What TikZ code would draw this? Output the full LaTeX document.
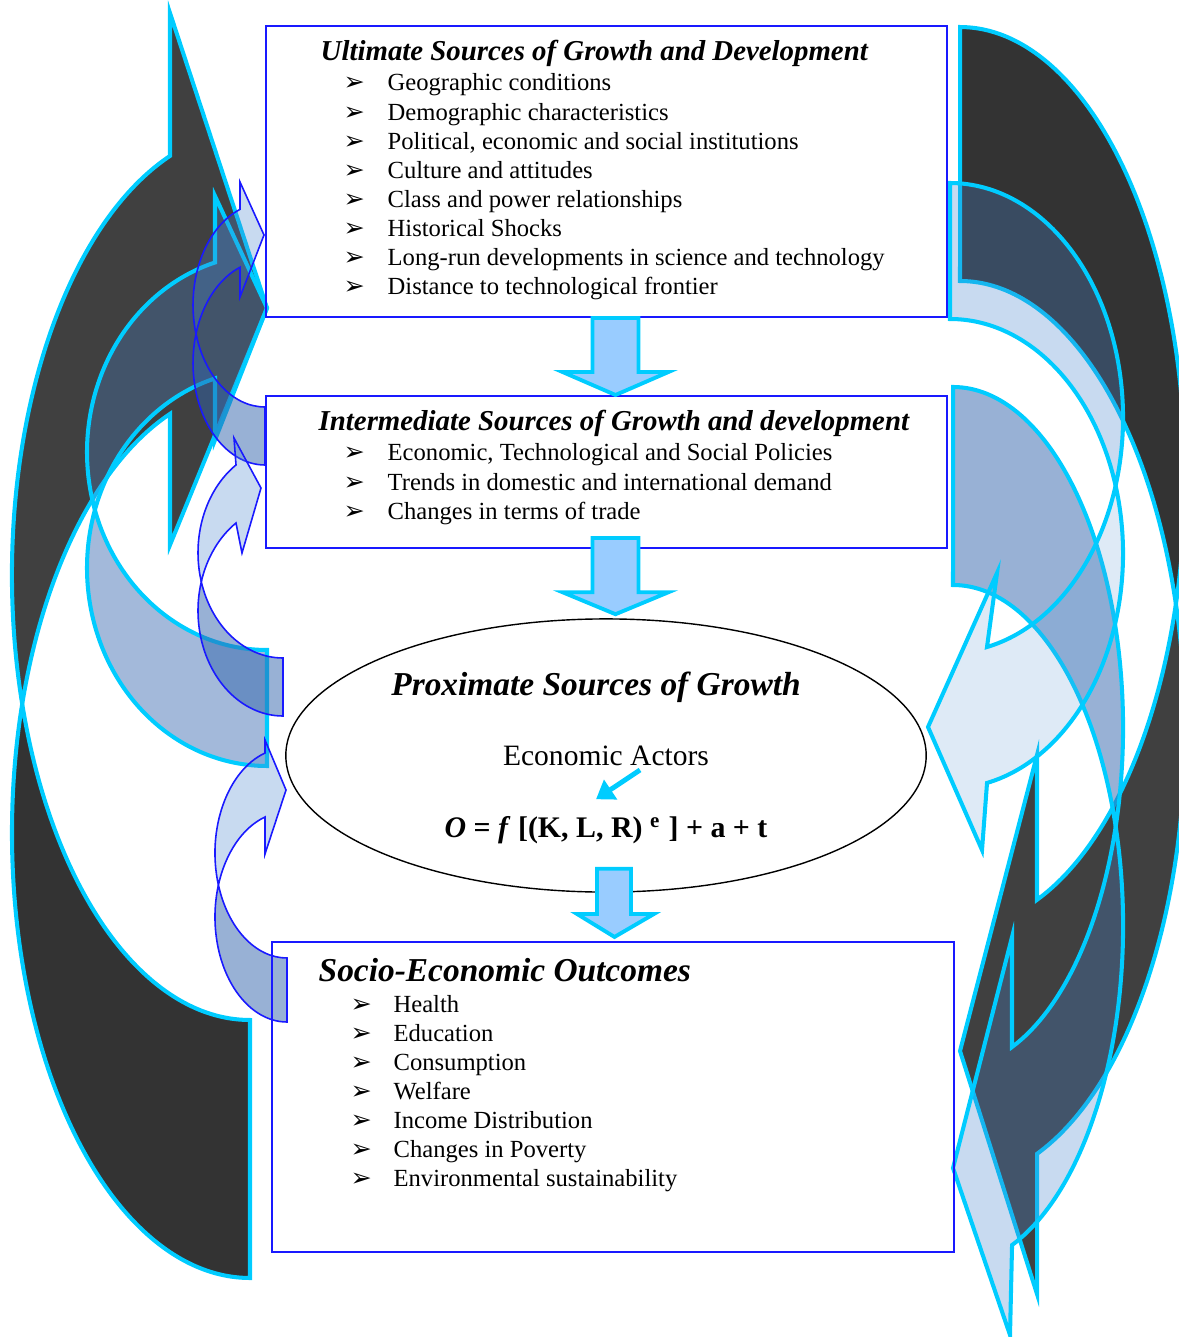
\documentclass[tikz,border=0pt]{standalone}
\usepackage{fontspec}
\setmainfont{Liberation Serif}
\newfontfamily\dingfont{DejaVu Sans}
\usepackage{array}
\usetikzlibrary{shapes.geometric,calc,arrows.meta}

\definecolor{cyanline}{RGB}{0,204,255}
\definecolor{flowfill}{RGB}{153,204,255}
\definecolor{darkhead}{RGB}{64,64,64}
\definecolor{darktail}{RGB}{51,51,51}
\definecolor{palefill}{RGB}{90,150,210}
\definecolor{lightfill}{RGB}{72,132,205}
\definecolor{midfill}{RGB}{50,100,172}
\definecolor{boxblue}{RGB}{25,25,255}

\begin{document}
\begin{tikzpicture}[x=0.01cm,y=-0.01cm,
  box/.style={draw=boxblue, line width=0.55pt, inner sep=0pt},
  heading/.style={font=\fontsize{8.2}{9.8}\selectfont\bfseries\itshape, inner sep=0pt, anchor=base west},
  items/.style={font=\fontsize{7}{8.25}\selectfont, inner sep=0pt, anchor=base west},
  flow/.style={draw=cyanline, fill=flowfill, line width=1.1pt},
  ribbon/.style={draw=cyanline, line width=1.15pt},
  thinribbon/.style={draw=boxblue, line width=0.45pt},
  pointer/.style={draw=cyanline, line width=1.4pt, -{Triangle[length=5pt,width=6.5pt]}}]

	\useasboundingbox (0,0) rectangle (1178,1337);

	\filldraw[ribbon, fill=darkhead] (22.2,704) arc[start angle=163.15, end angle=250.36, x radius=238, y radius=445] -- (170,13) -- (267,308) -- (170,545) -- (170,413.9) arc[start angle=250.36, end angle=196.85, x radius=238, y radius=445] -- cycle;
	\filldraw[ribbon, fill=darktail] (22.2,704) arc[start angle=196.85, end angle=90, x radius=238, y radius=445] -- (250,1020) arc[start angle=90, end angle=163.15, x radius=238, y radius=445] -- cycle;

	\filldraw[ribbon, fill=lightfill, fill opacity=0.3] (94.9,510) arc[start angle=162.97, end angle=253.21, x radius=180, y radius=198] -- (215,196) -- (267,308) -- (215,440) -- (215,378.4) arc[start angle=253.21, end angle=197.03, x radius=180, y radius=198] -- cycle;
	\filldraw[ribbon, fill=midfill, fill opacity=0.45] (94.9,510) arc[start angle=197.03, end angle=90, x radius=180, y radius=198] -- (267,650) arc[start angle=90, end angle=162.97, x radius=180, y radius=198] -- cycle;

	\filldraw[ribbon, fill=darkhead] (1175.9,604) arc[start angle=-16.39, end angle=69.99, x radius=225, y radius=450] -- (1037,1294) -- (960,1051) -- (1037,755) -- (1037,899.8) arc[start angle=69.99, end angle=16.39, x radius=225, y radius=450] -- cycle;
	\filldraw[ribbon, fill=darktail] (1175.9,604) arc[start angle=16.39, end angle=-90, x radius=225, y radius=450] -- (960,281) arc[start angle=-90, end angle=-16.39, x radius=225, y radius=450] -- cycle;

	\filldraw[ribbon, fill=lightfill, fill opacity=0.3] (1115.7,826.6) arc[start angle=-16.9, end angle=69.69, x radius=170, y radius=340.6] -- (1010,1335) -- (953,1168) -- (1012,937) -- (1012,1047) arc[start angle=69.69, end angle=16.9, x radius=170, y radius=340.6] -- cycle;
	\filldraw[ribbon, fill=midfill, fill opacity=0.5] (1115.7,826.6) arc[start angle=16.9, end angle=-90, x radius=170, y radius=340.6] -- (953,585) arc[start angle=-90, end angle=-16.9, x radius=170, y radius=340.6] -- cycle;

	\filldraw[ribbon, fill=palefill, fill opacity=0.2] (1115.6,485.7) arc[start angle=-16.84, end angle=77.65, x radius=173, y radius=234.7] -- (982,850) -- (928,727) -- (997,573) -- (987,647) arc[start angle=77.65, end angle=16.84, x radius=173, y radius=234.7] -- cycle;
	\filldraw[ribbon, fill=lightfill, fill opacity=0.3] (1115.6,485.7) arc[start angle=16.84, end angle=-90, x radius=173, y radius=234.7] -- (950,319) arc[start angle=-90, end angle=-16.84, x radius=173, y radius=234.7] -- cycle;

	\filldraw[thinribbon, fill=lightfill, fill opacity=0.3] (196,334) arc[start angle=163.48, end angle=249.68, x radius=72, y radius=102] -- (240,182) -- (264,235) -- (240,297) -- (240,267.3) arc[start angle=249.68, end angle=196.52, x radius=72, y radius=102] -- cycle;
	\filldraw[thinribbon, fill=midfill, fill opacity=0.5] (196,334) arc[start angle=196.52, end angle=90, x radius=72, y radius=102] -- (265,407) arc[start angle=90, end angle=163.48, x radius=72, y radius=102] -- cycle;

	\filldraw[thinribbon, fill=lightfill, fill opacity=0.3] (201.3,581.7) arc[start angle=164.01, end angle=236.43, x radius=85, y radius=105.3] -- (234,438) -- (261,488) -- (242,553) -- (236,523) arc[start angle=236.43, end angle=195.99, x radius=85, y radius=105.3] -- cycle;
	\filldraw[thinribbon, fill=midfill, fill opacity=0.5] (201.3,581.7) arc[start angle=195.99, end angle=90, x radius=85, y radius=105.3] -- (283,658) arc[start angle=90, end angle=164.01, x radius=85, y radius=105.3] -- cycle;

	\filldraw[thinribbon, fill=lightfill, fill opacity=0.3] (218.4,885) arc[start angle=162.26, end angle=252.21, x radius=72, y radius=105] -- (265,740) -- (286,790) -- (265,854) -- (265,817) arc[start angle=252.21, end angle=197.74, x radius=72, y radius=105] -- cycle;
	\filldraw[thinribbon, fill=midfill, fill opacity=0.5] (218.4,885) arc[start angle=197.74, end angle=90, x radius=72, y radius=105] -- (287,958) arc[start angle=90, end angle=162.26, x radius=72, y radius=105] -- cycle;

	\node[box, minimum width=6.81cm, minimum height=2.91cm] (ult) at (606.5,171.5) {};
	\node[box, minimum width=6.81cm, minimum height=1.52cm] (int) at (606.5,472) {};
	\node[draw, ellipse, line width=0.4pt, minimum width=6.4cm, minimum height=2.73cm] (prox) at (606,755.5) {};
	\node[box, minimum width=6.82cm, minimum height=3.1cm] (soc) at (613,1097) {};

	\node[heading] (ulthead) at (320,61) {Ultimate Sources of Growth and Development};
	\node[items] (ultlist) at (343,91) {\begin{tabular}[t]{@{}>{\dingfont\fontsize{7.2}{8.25}\selectfont}w{l}{12.5pt}@{}l@{}}
		➢ & Geographic conditions\\
		➢ & Demographic characteristics\\
		➢ & Political, economic and social institutions\\
		➢ & Culture and attitudes\\
		➢ & Class and power relationships\\
		➢ & Historical Shocks\\
		➢ & Long-run developments in science and technology\\
		➢ & Distance to technological frontier
	\end{tabular}};

	\node[heading] (inthead) at (318,431) {Intermediate Sources of Growth and development};
	\node[items] (intlist) at (343,461) {\begin{tabular}[t]{@{}>{\dingfont\fontsize{7.2}{8.25}\selectfont}w{l}{12.5pt}@{}l@{}}
		➢ & Economic, Technological and Social Policies\\
		➢ & Trends in domestic and international demand\\
		➢ & Changes in terms of trade
	\end{tabular}};

	\node[heading, font=\fontsize{9.5}{11}\selectfont\bfseries\itshape, anchor=base] (proxhead) at (596,695) {Proximate Sources of Growth};
	\node[inner sep=0pt, anchor=base, font=\fontsize{8.4}{10}\selectfont] (actors) at (606,765) {Economic Actors};
	\node[inner sep=0pt, anchor=base, font=\fontsize{8.5}{10}\selectfont\bfseries] (formula) at (606,837) {\textit{O} = \textit{f} [(K, L, R) \textsuperscript{e} ] + a + t};

	\node[heading, font=\fontsize{9.5}{11}\selectfont\bfseries\itshape] (sochead) at (318,981) {Socio-Economic Outcomes};
	\node[items] (soclist) at (350,1012) {\begin{tabular}[t]{@{}>{\dingfont\fontsize{7.2}{8.25}\selectfont}w{l}{12.2pt}@{}l@{}}
		➢ & Health\\
		➢ & Education\\
		➢ & Consumption\\
		➢ & Welfare\\
		➢ & Income Distribution\\
		➢ & Changes in Poverty\\
		➢ & Environmental sustainability
	\end{tabular}};

	\draw[flow] ($(ult.south)+(-14,0)$) -- ($(ult.south)+(32,0)$) -- ($(int.north)+(32,-23)$) -- ($(int.north)+(62,-23)$) -- ($(int.north)+(9,0)$) -- ($(int.north)+(-44,-23)$) -- ($(int.north)+(-14,-23)$) -- cycle;
	\draw[flow] ($(int.south)+(-14,-11)$) -- ($(int.south)+(32,-11)$) -- ($(prox.north)+(32.5,-26)$) -- ($(prox.north)+(62.5,-26)$) -- ($(prox.north)+(9.5,-4)$) -- ($(prox.north)+(-43.5,-26)$) -- ($(prox.north)+(-13.5,-26)$) -- cycle;
	\draw[flow] ($(prox.south)+(-9,-24)$) -- ($(prox.south)+(25,-24)$) -- ($(soc.north)+(18,-27)$) -- ($(soc.north)+(41,-27)$) -- ($(soc.north)+(1.5,-4)$) -- ($(soc.north)+(-36,-27)$) -- ($(soc.north)+(-16,-27)$) -- cycle;
	\draw[pointer] ($(actors.south)+(34,4)$) -- ($(formula.north)+(-10,-16)$);

\end{tikzpicture}
\end{document}
